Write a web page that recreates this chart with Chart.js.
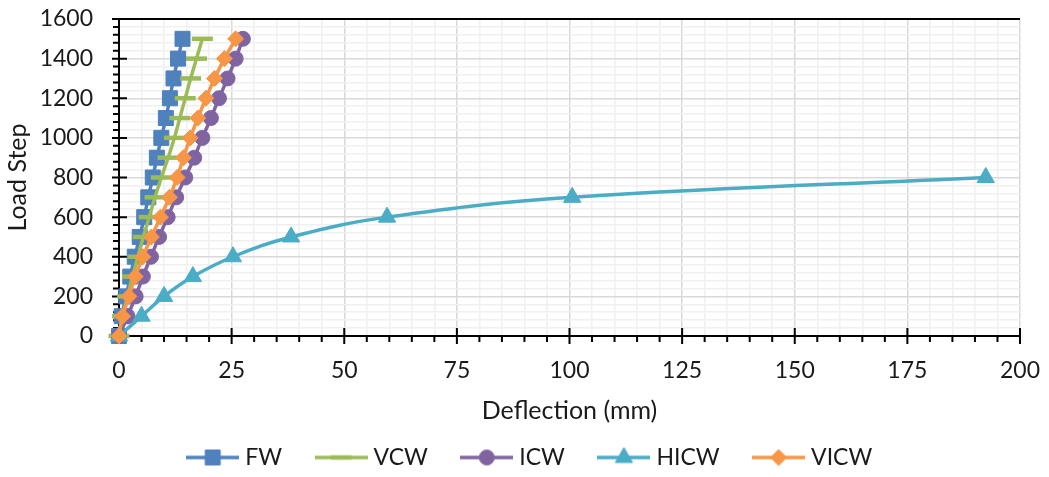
<!DOCTYPE html>
<html>
<head>
<meta charset="utf-8">
<script src="https://cdn.jsdelivr.net/npm/chart.js@4/dist/chart.umd.min.js"></script>
<style>
  html, body { margin: 0; padding: 0; background: #fff; }
</style>
</head>
<body>
<canvas id="chart" width="1049" height="477"></canvas>
<script>
// load steps shared by FW, VCW, ICW, VICW
const loadSteps = [0, 100, 200, 300, 400, 500, 600, 700, 800, 900, 1000, 1100, 1200, 1300, 1400, 1500];
const fwDeflection = [0, 0.6, 1.6, 2.5, 3.5, 4.6, 5.6, 6.5, 7.5, 8.4, 9.4, 10.4, 11.3, 12.1, 13.1, 14.1];
const vcwDeflection = [0, 0.8, 1.9, 3.0, 4.2, 5.4, 6.7, 8.0, 9.4, 10.9, 12.3, 13.5, 14.7, 15.9, 17.2, 18.5];
const icwDeflection = [0, 1.9, 3.7, 5.3, 7.1, 8.9, 10.8, 12.7, 14.7, 16.7, 18.5, 20.4, 22.2, 24.1, 25.9, 27.5];
const vicwDeflection = [0, 0.8, 2.2, 3.6, 5.3, 7.2, 9.2, 11.2, 12.9, 14.3, 15.8, 17.5, 19.3, 21.2, 23.4, 25.9];
// HICW stops at 800
const hicwLoadSteps = [0, 100, 200, 300, 400, 500, 600, 700, 800];
const hicwDeflection = [0, 5.0, 10.0, 16.4, 25.3, 38.2, 59.5, 100.6, 192.4];

const seriesNames = ["FW", "VCW", "ICW", "HICW", "VICW"];
const xTickLabels = [0, 25, 50, 75, 100, 125, 150, 175, 200];
const yTickLabels = [0, 200, 400, 600, 800, 1000, 1200, 1400, 1600];

const colors = ["#4f81bd", "#9bbb59", "#8064a2", "#4bacc6", "#f79646"];
const markers = [
  { pointStyle: "rect", radius: 10.6, borderWidth: 1 },
  { pointStyle: "line", radius: 10.5, borderWidth: 4.5 },
  { pointStyle: "circle", radius: 7.5, borderWidth: 1 },
  { pointStyle: "triangle", radius: 10, borderWidth: 1 },
  { pointStyle: "rectRot", radius: 8, borderWidth: 1 },
];
const FONT = "Lato, 'Open Sans', sans-serif";
const TEXT = "#1a1a1a";

const pairs = (xs, ys) => xs.map((x, i) => ({ x, y: ys[i] }));
const seriesData = [
  pairs(fwDeflection, loadSteps),
  pairs(vcwDeflection, loadSteps),
  pairs(icwDeflection, loadSteps),
  pairs(hicwDeflection, hicwLoadSteps),
  pairs(vicwDeflection, loadSteps),
];

// legend icon: short line with the marker on it
function legendIcon(i) {
  const c = document.createElement("canvas");
  c.width = 53;
  c.height = 24;
  const g = c.getContext("2d");
  g.strokeStyle = colors[i];
  g.fillStyle = colors[i];
  g.lineWidth = 3.5;
  g.beginPath();
  g.moveTo(0, 12);
  g.lineTo(53, 12);
  g.stroke();
  g.lineWidth = markers[i].borderWidth;
  Chart.helpers.drawPoint(g, { ...markers[i], rotation: 0 }, 26.5, 12);
  return c;
}
const icons = seriesNames.map((_, i) => legendIcon(i));

const datasets = seriesNames.map((name, i) => ({
  label: name,
  data: seriesData[i],
  showLine: true,
  borderColor: colors[i],
  backgroundColor: colors[i],
  borderWidth: 3.5,
  tension: 0.4,
  pointStyle: markers[i].pointStyle,
  pointRadius: markers[i].radius,
  pointHoverRadius: markers[i].radius,
  pointBorderWidth: markers[i].borderWidth,
  pointBackgroundColor: colors[i],
  pointBorderColor: colors[i],
  clip: false,
  order: seriesNames.length - 1 - i,
}));

// axis lines with crossing major ticks and outside minor ticks
const axisTicks = {
  id: "axisTicks",
  beforeDatasetsDraw(chart) {
    const { ctx, chartArea: a, scales } = chart;
    const x = scales.x, y = scales.y;
    ctx.save();
    ctx.strokeStyle = "#000";
    ctx.lineWidth = 2;
    ctx.beginPath();
    ctx.moveTo(a.left, a.top);
    ctx.lineTo(a.left, a.bottom);
    ctx.moveTo(a.left, a.bottom);
    ctx.lineTo(a.right, a.bottom);
    ctx.moveTo(a.left, a.top);
    ctx.lineTo(a.right, a.top);
    x.ticks.forEach((t) => {
      const px = x.getPixelForValue(t.value);
      const major = xTickLabels.includes(t.value);
      ctx.moveTo(px, major ? a.bottom - 8 : a.bottom);
      ctx.lineTo(px, a.bottom + (major ? 8 : 6));
    });
    y.ticks.forEach((t) => {
      const py = y.getPixelForValue(t.value);
      const major = yTickLabels.includes(t.value);
      ctx.moveTo(a.left - (major ? 7 : 6), py);
      ctx.lineTo(major ? a.left + 8 : a.left, py);
    });
    ctx.stroke();
    ctx.restore();
  },
  afterLayout(chart) {
    chart.legend.left += 44;
  },
};

// fixed axis box sizes, no extra label padding pushed into the layout
const fixBox = (size) => (s) => {
  if (s.isHorizontal()) s.height = size;
  else s.width = size;
  s.paddingTop = s.paddingBottom = s.paddingLeft = s.paddingRight = 0;
};

const defaultLabels = Chart.defaults.plugins.legend.labels.generateLabels;

new Chart(document.getElementById("chart"), {
  type: "scatter",
  data: { datasets },
  options: {
    responsive: false,
    animation: false,
    devicePixelRatio: 1,
    layout: { padding: { top: 19, right: 29, bottom: 0, left: 0 } },
    scales: {
      x: {
        type: "linear",
        min: 0,
        max: 200,
        afterFit: fixBox(72),
        border: { display: false },
        grid: {
          drawTicks: false,
          lineWidth: 1.5,
          color: (c) => (xTickLabels.includes(c.tick.value) ? "#d9d9d9" : "#f0f0f0"),
        },
        ticks: {
          stepSize: 5,
          autoSkip: false,
          maxRotation: 0,
          padding: 21,
          color: TEXT,
          font: { family: FONT, size: 23 },
          callback: (v) => (xTickLabels.includes(v) ? String(v) : ""),
        },
        title: {
          display: true,
          text: "Deflection (mm)",
          color: TEXT,
          font: { family: FONT, size: 25 },
          padding: { top: 0, bottom: -18 },
        },
      },
      y: {
        type: "linear",
        min: 0,
        max: 1600,
        afterFit: fixBox(119),
        border: { display: false },
        grid: {
          drawTicks: false,
          lineWidth: 1.5,
          color: (c) => (yTickLabels.includes(c.tick.value) ? "#d9d9d9" : "#f0f0f0"),
        },
        ticks: {
          stepSize: 40,
          autoSkip: false,
          padding: 26,
          color: TEXT,
          font: { family: FONT, size: 23 },
          callback: (v) => (yTickLabels.includes(v) ? String(v) : ""),
        },
        title: {
          display: true,
          text: "Load Step",
          color: TEXT,
          font: { family: FONT, size: 25 },
          padding: { top: 3, bottom: 0 },
        },
      },
    },
    plugins: {
      legend: {
        position: "bottom",
        maxHeight: 69,
        labels: {
          usePointStyle: true,
          pointStyleWidth: 42,
          padding: 38,
          color: TEXT,
          font: { family: FONT, size: 23 },
          sort: (a, b) => a.datasetIndex - b.datasetIndex,
          generateLabels: (chart) =>
            defaultLabels(chart).map((l) => ({ ...l, pointStyle: icons[l.datasetIndex] })),
        },
      },
      tooltip: { enabled: false },
    },
  },
  plugins: [axisTicks],
});
</script>
</body>
</html>
